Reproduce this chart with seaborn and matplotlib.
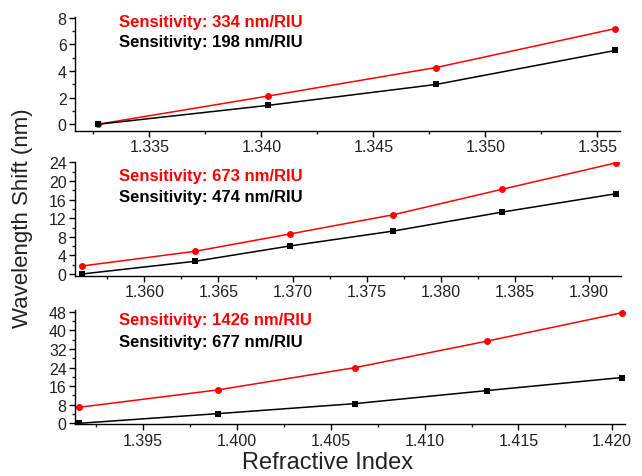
import numpy as np
import pandas as pd
import seaborn as sns
import matplotlib
matplotlib.use("Agg")
import matplotlib.pyplot as plt
from matplotlib.ticker import MultipleLocator, AutoMinorLocator

# panel 1
ri_1 = [1.3327, 1.3403, 1.3478, 1.3558]
red_1 = [0.0, 2.12, 4.26, 7.18]
black_1 = [0.0, 1.42, 2.99, 5.54]
# panel 2
ri_2 = [1.3558, 1.3634, 1.3698, 1.3768, 1.3841, 1.3918]
red_2 = [1.72, 4.87, 8.6, 12.75, 18.2, 23.9]
black_2 = [0.0, 2.72, 6.02, 9.24, 13.3, 17.26]
# panel 3
ri_3 = [1.3916, 1.3990, 1.4063, 1.4133, 1.4205]
red_3 = [6.9, 14.4, 24.0, 35.35, 47.6]
black_3 = [0.0, 4.17, 8.48, 14.08, 19.7]

sens_red = ["Sensitivity: 334 nm/RIU", "Sensitivity: 673 nm/RIU", "Sensitivity: 1426 nm/RIU"]
sens_black = ["Sensitivity: 198 nm/RIU", "Sensitivity: 474 nm/RIU", "Sensitivity: 677 nm/RIU"]

sns.set_style("ticks")
plt.rcParams['font.family'] = ['Liberation Sans', 'DejaVu Sans']

W, H = 642, 477
fig = plt.figure(figsize=(W / 100, H / 100), dpi=100)

# axes boxes in pixels: left, right, top, bottom
boxes = [(75, 620, 18, 131.7), (75, 621, 163, 276.7), (75, 625, 311, 425.3)]
xlims = [(1.33168, 1.35601), (1.35532, 1.39216), (1.39137, 1.42068)]
ylims = [(-0.48, 8.05), (-0.37, 24.1), (-0.43, 48.8)]
ysteps = [2, 4, 8]
text_y = [(0.959, 0.783), (0.879, 0.698), (0.914, 0.726)]

panels = [(ri_1, red_1, black_1), (ri_2, red_2, black_2), (ri_3, red_3, black_3)]

for i, (ri, red, black) in enumerate(panels):
    l, r, t, b = boxes[i]
    ax = fig.add_axes([l / W, 1 - b / H, (r - l) / W, (b - t) / H])
    df = pd.DataFrame({"ri": ri, "red": red, "black": black})
    sns.lineplot(data=df, x="ri", y="red", ax=ax, color="red", marker="o",
                 markersize=5, markeredgewidth=0, linewidth=1.1)
    sns.lineplot(data=df, x="ri", y="black", ax=ax, color="black", marker="s",
                 markersize=4.8, markeredgewidth=0, linewidth=1.1)
    ax.set_xlim(*xlims[i])
    ax.set_ylim(*ylims[i])
    ax.xaxis.set_major_locator(MultipleLocator(0.005))
    ax.xaxis.set_minor_locator(AutoMinorLocator(2))
    ax.yaxis.set_major_locator(MultipleLocator(ysteps[i]))
    ax.yaxis.set_minor_locator(AutoMinorLocator(2))
    ax.xaxis.set_major_formatter(plt.FormatStrFormatter("%.3f"))
    ax.tick_params(which="major", direction="out", length=4, width=1, labelsize=11.5,
                   colors="black", labelcolor="#222222", pad=2)
    ax.tick_params(which="minor", direction="out", length=2, width=1)
    for s in ["top", "right"]:
        ax.spines[s].set_visible(False)
    for s in ["left", "bottom"]:
        ax.spines[s].set_linewidth(1)
        ax.spines[s].set_color("black")
    ax.set_xlabel("")
    ax.set_ylabel("")
    tx = (119 - l) / (r - l)
    ax.text(tx, text_y[i][0], sens_red[i], transform=ax.transAxes, color="red",
            fontsize=12, fontweight="bold", va="center", ha="left")
    ax.text(tx, text_y[i][1], sens_black[i], transform=ax.transAxes, color="black",
            fontsize=12, fontweight="bold", va="center", ha="left")

fig.text(328 / W, 1 - 463 / H, "Refractive Index", fontsize=17, ha="center", va="center",
         color="#222222")
fig.text(23 / W, 1 - 218 / H, "Wavelength Shift (nm)", fontsize=16, rotation=90,
         ha="center", va="center", color="#222222")

fig.savefig("out.png", dpi=100)
